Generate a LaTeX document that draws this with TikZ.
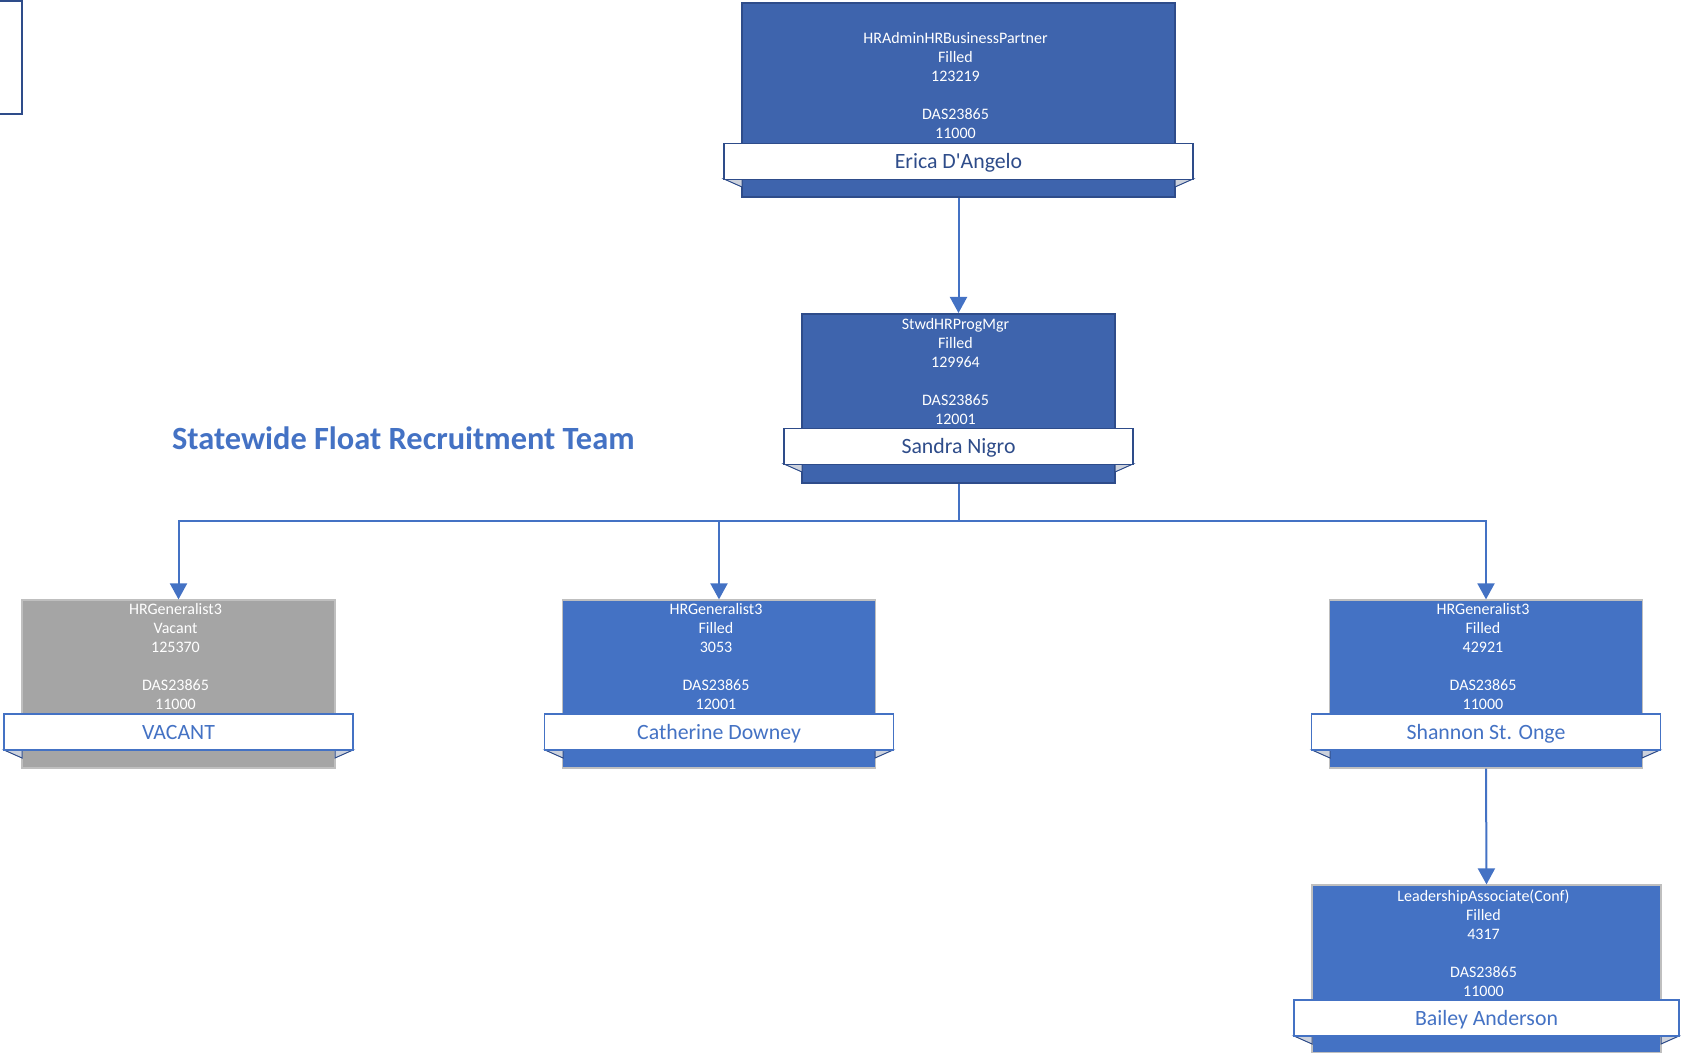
\documentclass[tikz,border=0pt]{standalone}
\usepackage{fontspec}
\setmainfont{Carlito}
\usetikzlibrary{arrows.meta}
\definecolor{topblue}{HTML}{3E64AD}
\definecolor{topedge}{HTML}{2E4C8A}
\definecolor{boxblue}{HTML}{4472C4}
\definecolor{boxedge}{HTML}{BFBFBF}
\definecolor{vacgrey}{HTML}{A5A5A5}
\definecolor{wingfill}{HTML}{CDD2DC}

\tikzset{
  posbox/.style={rectangle, inner sep=0pt, minimum width=156.5pt, minimum height=84pt,
    fill=boxblue, draw=boxedge, line width=0.6pt},
  topbox/.style={posbox, fill=topblue, draw=topedge, line width=1pt},
  vacbox/.style={posbox, fill=vacgrey, draw=boxedge},
  namebar/.style={rectangle, inner sep=0pt, minimum width=174.5pt, minimum height=18pt,
    fill=white, draw=boxblue, line width=0.8pt, text=boxblue,
    text height=7.5pt, text depth=0.5pt, font=\fontsize{10.9}{12}\selectfont},
  topbar/.style={namebar, draw=topedge, text=topedge},
  infotext/.style={inner sep=0pt, anchor=south, align=center, text=white,
    font=\fontsize{8}{9.5}\selectfont},
  wing/.style={fill=wingfill, draw=topedge, line width=0.5pt},
  link/.style={draw=boxblue, line width=1pt, -{Triangle[width=8.5pt,length=8pt]}}
}

\begin{document}
\begin{tikzpicture}[x=0.5pt, y=-0.5pt]
\useasboundingbox (0,0) rectangle (1681,1053);
\clip (0,0) rectangle (1681,1053);

% edge of a neighbouring card
\draw [topedge, line width=1pt] (-10,1) rectangle (21.5,114);

% title
\node [anchor=base west, text=boxblue, font=\bfseries\fontsize{16.2}{19}\selectfont] (title) at (165,450) {Statewide Float Recruitment Team};

% HR business partner
\node [topbox, minimum width=216.5pt, minimum height=97pt] (erica) at (958.5,100) {};
\draw [wing] (724,179) -- (742,179) -- (742,187) -- cycle;
\draw [wing] (1193,179) -- (1175,179) -- (1175,187) -- cycle;
\node [topbar, minimum width=234.5pt] (ericaname) at (958.5,161.5) {Erica D\textquotesingle Angelo};
\node [infotext] (ericainfo) at (955.5,139.5) {HRAdminHRBusinessPartner\\Filled\\123219\\[9.5pt]DAS23865\\11000};

% program manager
\node [topbox, minimum height=84.5pt] (sandra) at (958.5,398.5) {};
\draw [wing] (784,464) -- (802,464) -- (802,472) -- cycle;
\draw [wing] (1133,464) -- (1115,464) -- (1115,472) -- cycle;
\node [topbar] (sandraname) at (958.5,446.5) {Sandra Nigro};
\node [infotext] (sandrainfo) at (955.5,425) {StwdHRProgMgr\\Filled\\129964\\[9.5pt]DAS23865\\12001};

% generalists
\node [vacbox] (vacant) at (178.5,684) {};
\draw [wing] (4,750) -- (22,750) -- (22,758) -- cycle;
\draw [wing] (353,750) -- (335,750) -- (335,758) -- cycle;
\node [namebar] (vacantname) at (178.5,732) {VACANT};
\node [infotext] (vacantinfo) at (175.5,710.5) {HRGeneralist3\\Vacant\\125370\\[9.5pt]DAS23865\\11000};

\node [posbox] (catherine) at (719,684) {};
\draw [wing] (545,750) -- (563,750) -- (563,758) -- cycle;
\draw [wing] (893,750) -- (875,750) -- (875,758) -- cycle;
\node [namebar] (catherinename) at (719,732) {Catherine Downey};
\node [infotext] (catherineinfo) at (716,710.5) {HRGeneralist3\\Filled\\3053\\[9.5pt]DAS23865\\12001};

\node [posbox] (shannon) at (1486,684) {};
\draw [wing] (1312,750) -- (1330,750) -- (1330,758) -- cycle;
\draw [wing] (1660,750) -- (1642,750) -- (1642,758) -- cycle;
\node [namebar] (shannonname) at (1486,732) {Shannon St. Onge};
\node [infotext] (shannoninfo) at (1483,710.5) {HRGeneralist3\\Filled\\42921\\[9.5pt]DAS23865\\11000};

% leadership associate
\node [posbox, minimum width=174.5pt] (bailey) at (1486.5,969) {};
\draw [wing] (1294,1036) -- (1312,1036) -- (1312,1044) -- cycle;
\draw [wing] (1679,1036) -- (1661,1036) -- (1661,1044) -- cycle;
\node [namebar, minimum width=192.5pt] (baileyname) at (1486.5,1018) {Bailey Anderson};
\node [infotext] (baileyinfo) at (1483.5,997) {LeadershipAssociate(Conf)\\Filled\\4317\\[9.5pt]DAS23865\\11000};

% reporting lines
\coordinate (split) at (958.5,521);
\draw [link] (erica.south) -- (sandra.north);
\draw [draw=boxblue, line width=1pt] (sandra.south) -- (split);
\draw [link] (split) -| (vacant.north);
\draw [link] (split) -| (catherine.north);
\draw [link] (split) -| (shannon.north);
\draw [link] (shannon.south) -- (bailey.north);
\end{tikzpicture}
\end{document}
